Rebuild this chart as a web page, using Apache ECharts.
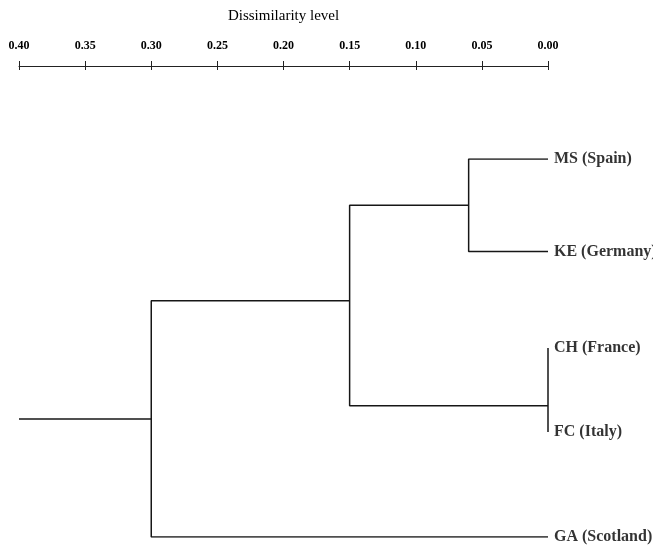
<!DOCTYPE html>
<html>
<head>
<meta charset="utf-8">
<style>
  html, body { margin: 0; padding: 0; background: #fff; }
  #chart { width: 653px; height: 546px; }
</style>
<script src="https://cdn.jsdelivr.net/npm/echarts@6/dist/echarts.min.js"></script>
</head>
<body>
<div id="chart"></div>
<script>
// ---- data ----
const axisTitle = 'Dissimilarity level';
const tickValues = [0.40, 0.35, 0.30, 0.25, 0.20, 0.15, 0.10, 0.05, 0.00];
const leafNames = ['MS (Spain)', 'KE (Germany)', 'CH (France)', 'FC (Italy)', 'GA (Scotland)'];
const leafRows = [0, 0.98, 2.0, 2.89, 4.0];
// merges: children indices (0-4 leaves, 5+ earlier merges), height, row of the joined node
const mergeLeft = [0, 2, 5, 7];
const mergeRight = [1, 3, 6, 4];
const mergeHeights = [0.06, 0.00, 0.15, 0.30];
const nodeRows = [0.49, 2.61, 1.50, 2.75];
const rootTailTo = 0.40;

// ---- build ----
const nLeaves = leafNames.length;
function heightOf(i) { return i < nLeaves ? 0 : mergeHeights[i - nLeaves]; }
function rowOf(i) { return i < nLeaves ? leafRows[i] : nodeRows[i - nLeaves]; }

const lineColor = '#161616';
const series = [];
mergeLeft.forEach((a, k) => {
  const b = mergeRight[k];
  const H = mergeHeights[k];
  series.push({
    type: 'line', xAxisIndex: 2, yAxisIndex: 1, symbol: 'none', silent: true,
    lineStyle: { color: lineColor, width: 1.5 },
    data: [[heightOf(a), rowOf(a)], [H, rowOf(a)], [H, rowOf(b)], [heightOf(b), rowOf(b)]]
  });
});
const rootIdx = nLeaves + mergeHeights.length - 1;
series.push({
  type: 'line', xAxisIndex: 2, yAxisIndex: 1, symbol: 'none', silent: true,
  lineStyle: { color: lineColor, width: 1.5 },
  data: [[heightOf(rootIdx), rowOf(rootIdx)], [rootTailTo, rowOf(rootIdx)]]
});
series.push({
  type: 'scatter', xAxisIndex: 2, yAxisIndex: 1, symbolSize: 0, silent: true,
  data: leafNames.map((n, i) => ({ name: n, value: [0, leafRows[i]] })),
  label: {
    show: true, position: 'right', distance: 6,
    formatter: p => p.name,
    fontFamily: 'Liberation Serif', fontWeight: 'bold', fontSize: 16, color: '#000'
  }
});

const serif = 'Liberation Serif';
const option = {
  animation: false,
  backgroundColor: '#fff',
  grid: [
    { left: 19, right: 105, top: 65, height: 1 },
    { left: 19, right: 105, top: 159, bottom: 9 }
  ],
  xAxis: [
    {
      type: 'value', gridIndex: 0, position: 'top', inverse: true,
      min: 0, max: 0.4, interval: 0.05,
      name: axisTitle, nameLocation: 'middle', nameGap: 41,
      nameTextStyle: { fontFamily: serif, fontSize: 15, color: '#000' },
      axisLine: { show: true, lineStyle: { color: '#222', width: 1 } },
      axisTick: { show: true, inside: false, length: 5, lineStyle: { color: '#222', width: 1 } },
      splitLine: { show: false },
      axisLabel: {
        show: true, margin: 13,
        fontFamily: serif, fontWeight: 'bold', fontSize: 12, color: '#000',
        formatter: v => {
          const t = tickValues.find(x => Math.abs(x - v) < 1e-9);
          return t === undefined ? '' : t.toFixed(2);
        }
      }
    },
    {
      type: 'value', gridIndex: 0, position: 'top', inverse: true,
      min: 0, max: 0.4, interval: 0.05,
      axisLine: { show: false },
      axisTick: { show: true, inside: true, length: 5, lineStyle: { color: '#222', width: 1 } },
      splitLine: { show: false },
      axisLabel: { show: false }
    },
    {
      type: 'value', gridIndex: 1, inverse: true, min: 0, max: 0.4, show: false
    }
  ],
  yAxis: [
    { type: 'value', gridIndex: 0, show: false, min: 0, max: 1 },
    { type: 'value', gridIndex: 1, inverse: true, min: 0, max: 4, show: false }
  ],
  series: series
};

const chart = echarts.init(document.getElementById('chart'), null, { renderer: 'canvas' });
chart.setOption(option);
</script>
</body>
</html>
